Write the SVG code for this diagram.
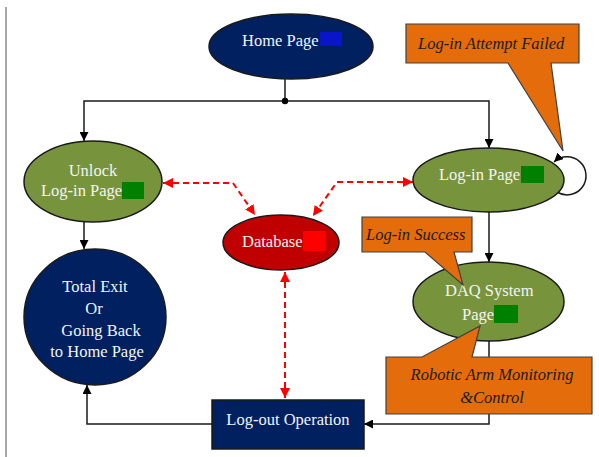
<svg xmlns="http://www.w3.org/2000/svg" width="599" height="457" viewBox="0 0 599 457">
<style>
.t{font-family:"Liberation Serif","Times New Roman",serif;font-size:16.5px;fill:#F4F4F4}
.c{font-family:"Liberation Serif","Times New Roman",serif;font-size:16.5px;font-style:italic;fill:#1A1A1A}
.n{stroke:#1A1A1A;stroke-width:1.5}
.navy{fill:#002060}
.green{fill:#77933C}
.co{fill:#E46C0A;stroke:#404040;stroke-width:1.2}
.k{fill:none;stroke:#1A1A1A;stroke-width:1.5}
.r{fill:none;stroke:#FF0000;stroke-width:2;stroke-dasharray:6,4}
</style>
<defs>
<marker id="ab" viewBox="0 0 10 10" refX="10" refY="5" markerWidth="9" markerHeight="9" markerUnits="userSpaceOnUse" orient="auto"><path d="M0,0 L10,5 L0,10 Z" fill="#000"/></marker>
<marker id="ar" viewBox="0 0 10 10" refX="10" refY="5" markerWidth="10" markerHeight="10" markerUnits="userSpaceOnUse" orient="auto-start-reverse"><path d="M0,0 L10,5 L0,10 Z" fill="#FF0000"/></marker>
</defs>
<rect width="599" height="457" fill="#FFFFFF"/>
<line x1="6" y1="7" x2="6" y2="457" stroke="#8A8A8A" stroke-width="1.5"/>
<g id="connectors">
<path class="k" d="M285,79 L285,101"/>
<path class="k" d="M285,101 L84,101 L84,141" marker-end="url(#ab)"/>
<path class="k" d="M285,101 L489,101 L489,148" marker-end="url(#ab)"/>
<circle cx="285" cy="101" r="3.2" fill="#000"/>
<path class="k" d="M84,222 L84,249" marker-end="url(#ab)"/>
<path class="k" d="M489,212 L489,262" marker-end="url(#ab)"/>
<path class="k" d="M489,341 L489,424 L364,424" marker-end="url(#ab)"/>
<path class="k" d="M212,424 L87,424 L87,385" marker-end="url(#ab)"/>
<path class="k" d="M557,192 A19,19 0 1 0 554,162" marker-end="url(#ab)"/>
<path class="r" d="M163,183 L233,183 L255,215" marker-start="url(#ar)" marker-end="url(#ar)"/>
<path class="r" d="M413,182 L337,182 L313,216" marker-start="url(#ar)" marker-end="url(#ar)"/>
<path class="r" d="M285,272 L285,398" marker-start="url(#ar)" marker-end="url(#ar)"/>
</g>
<g id="home">
<ellipse class="n navy" cx="291" cy="46.5" rx="82" ry="32.5"/>
<text class="t" x="242" y="46">Home Page</text>
<rect x="320" y="32" width="22" height="14" fill="#0A14C8"/>
</g>
<g id="unlock">
<ellipse class="n green" cx="93" cy="181.5" rx="69" ry="40.5"/>
<text class="t" x="93" y="176" text-anchor="middle">Unlock</text>
<text class="t" x="41" y="196">Log-in Page</text>
<rect x="122" y="182" width="22" height="17" fill="#008000"/>
</g>
<g id="login">
<ellipse class="n green" cx="488.5" cy="180" rx="75.5" ry="32"/>
<text class="t" x="439" y="180">Log-in Page</text>
<rect x="521" y="166" width="23" height="17" fill="#008000"/>
</g>
<g id="database">
<ellipse class="n" fill="#C00000" cx="281" cy="242.5" rx="58" ry="27.5"/>
<text class="t" x="242" y="247">Database</text>
<rect x="303" y="231" width="23" height="20" fill="#FF0000"/>
</g>
<g id="daq">
<ellipse class="n green" cx="488.5" cy="301.5" rx="75.5" ry="39.5"/>
<text class="t" x="445" y="296">DAQ System</text>
<text class="t" x="462" y="320">Page</text>
<rect x="494" y="305" width="24" height="18" fill="#008000"/>
</g>
<g id="exit">
<ellipse class="n navy" cx="95" cy="317" rx="71" ry="68"/>
<text class="t" x="95" y="292" text-anchor="middle">Total Exit</text>
<text class="t" x="94" y="314" text-anchor="middle">Or</text>
<text class="t" x="101" y="336" text-anchor="middle">Going Back</text>
<text class="t" x="97" y="357" text-anchor="middle">to Home Page</text>
</g>
<g id="logout">
<rect class="n navy" x="212" y="400" width="152" height="49"/>
<text class="t" x="288" y="425" text-anchor="middle">Log-out Operation</text>
</g>
<g id="callout-failed">
<path class="co" d="M406,24 H579 V63 H551 L563,151 L508,63 H406 Z"/>
<text class="c" x="418" y="48.5">Log-in Attempt Failed</text>
</g>
<g id="callout-success">
<path class="co" d="M362,217 H472 V252 H454 L463,285 L425,252 H362 Z"/>
<text class="c" x="366" y="240">Log-in Success</text>
</g>
<g id="callout-robotic">
<path class="co" d="M386,357 H422 L480,326 L472,357 H592 V414 H386 Z"/>
<text class="c" x="492" y="380" text-anchor="middle">Robotic Arm Monitoring</text>
<text class="c" x="492" y="403" text-anchor="middle">&amp;Control</text>
</g>
</svg>
